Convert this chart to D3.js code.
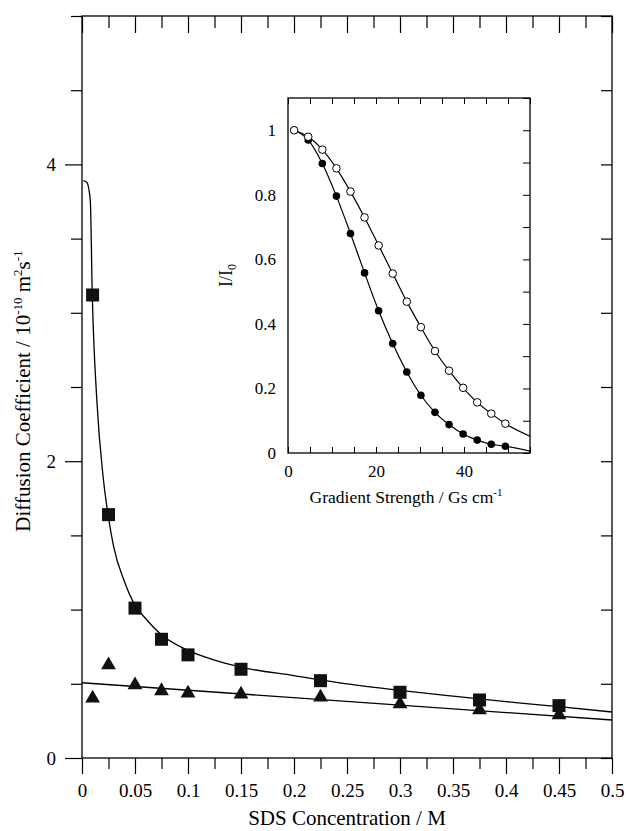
<!DOCTYPE html>
<html>
<head>
<meta charset="utf-8">
<script src="https://cdn.jsdelivr.net/npm/d3@7"></script>
<style>
  body { margin: 0; background: #fff; }
  svg { font-family: "Liberation Serif", "Times New Roman", serif; }
</style>
</head>
<body>
<figure id="chart" style="margin:0"></figure>
<script>
// main plot: SDS concentration (M) vs diffusion coefficient (1e-10 m2/s)
const sdsConc = [0.01, 0.025, 0.05, 0.075, 0.1, 0.15, 0.225, 0.3, 0.375, 0.45];
const squareD = [3.12, 1.64, 1.01, 0.80, 0.695, 0.598, 0.521, 0.443, 0.391, 0.353];
const triangleD = [0.403, 0.627, 0.492, 0.452, 0.436, 0.43, 0.409, 0.364, 0.324, 0.29];

// fitted curves
const squareFitX = [0.0012, 0.0045, 0.0078, 0.0097, 0.014, 0.02, 0.025, 0.03, 0.04, 0.05, 0.06, 0.075, 0.1, 0.125, 0.15, 0.2, 0.25, 0.3, 0.35, 0.4, 0.45, 0.5];
const squareFitD = [3.89, 3.88, 3.76, 3.12, 2.41, 1.89, 1.62, 1.42, 1.19, 1.03, 0.94, 0.83, 0.725, 0.66, 0.612, 0.555, 0.50, 0.456, 0.417, 0.38, 0.346, 0.31];
const triangleFitX = [0, 0.5];
const triangleFitD = [0.507, 0.256];

const mainXTicks = [0, 0.05, 0.1, 0.15, 0.2, 0.25, 0.3, 0.35, 0.4, 0.45, 0.5];
const mainYTicks = [0, 2, 4];

// inset: gradient strength vs I/I0
const gradient = [1.4, 4.6, 7.8, 11.0, 14.2, 17.4, 20.6, 23.8, 27.0, 30.2, 33.4, 36.6, 39.8, 43.0, 46.2, 49.4];
const openI = [1.0, 0.98, 0.94, 0.882, 0.81, 0.73, 0.643, 0.556, 0.469, 0.39, 0.316, 0.255, 0.202, 0.157, 0.122, 0.091];
const filledI = [1.0, 0.97, 0.897, 0.796, 0.68, 0.558, 0.441, 0.339, 0.251, 0.179, 0.126, 0.088, 0.059, 0.04, 0.027, 0.021];
const openFitEnd = [55, 0.052];
const filledFitEnd = [55, 0.006];

const insetXTicks = [0, 20, 40];
const insetYTicks = [0, 0.2, 0.4, 0.6, 0.8, 1];

const width = 626, height = 831;
const m = { left: 82, right: 612, top: 16, bottom: 758 };
const ins = { left: 288, right: 530, top: 98, bottom: 453 };

const svg = d3.select("#chart").append("svg")
  .attr("width", width)
  .attr("height", height);

const x = d3.scaleLinear().domain([0, 0.5]).range([m.left, m.right]);
const y = d3.scaleLinear().domain([0, 5]).range([m.bottom, m.top]);

const fmt = d => d === 0 ? "0" : String(+d.toFixed(3));
const isMajorX = d => Math.abs(d * 20 - Math.round(d * 20)) < 1e-6;
const serif = "Liberation Serif";

// frame
svg.append("rect")
  .attr("x", m.left).attr("y", m.top)
  .attr("width", m.right - m.left).attr("height", m.bottom - m.top)
  .attr("fill", "none").attr("stroke", "#000").attr("stroke-width", 1.3);

const minorX = d3.range(0, 0.5001, 0.025);
const minorY = d3.range(0, 5.001, 0.5);

// bottom axis: outward ticks
svg.append("g")
  .attr("transform", `translate(0,${m.bottom})`)
  .call(d3.axisBottom(x).tickValues(minorX).tickSize(11).tickFormat(""))
  .call(g => g.select(".domain").remove())
  .call(g => g.selectAll(".tick line")
    .attr("y2", d => isMajorX(d) ? 16 : 11).attr("stroke-width", 1.2));
svg.append("g")
  .attr("transform", `translate(0,${m.bottom})`)
  .call(d3.axisBottom(x).tickValues(mainXTicks).tickSize(0).tickPadding(26).tickFormat(fmt))
  .call(g => g.select(".domain").remove())
  .call(g => g.selectAll("text").attr("font-size", 19).attr("fill", "#000")
    .attr("font-family", serif));

// top axis: inward ticks
svg.append("g")
  .attr("transform", `translate(0,${m.top})`)
  .call(d3.axisBottom(x).tickValues(minorX).tickSize(12).tickFormat(""))
  .call(g => g.select(".domain").remove())
  .call(g => g.selectAll(".tick line")
    .attr("y2", d => isMajorX(d) ? 17 : 12).attr("stroke-width", 1.2));

// left axis: outward ticks, long at labelled values
svg.append("g")
  .attr("transform", `translate(${m.left},0)`)
  .call(d3.axisLeft(y).tickValues(minorY).tickSize(11).tickFormat(""))
  .call(g => g.select(".domain").remove())
  .call(g => g.selectAll(".tick line")
    .attr("x2", d => mainYTicks.includes(d) ? -17 : -11).attr("stroke-width", 1.2));
svg.append("g")
  .attr("transform", `translate(${m.left},0)`)
  .call(d3.axisLeft(y).tickValues(mainYTicks).tickSize(0).tickPadding(26).tickFormat(fmt))
  .call(g => g.select(".domain").remove())
  .call(g => g.selectAll("text").attr("font-size", 19).attr("fill", "#000")
    .attr("font-family", serif));

// right axis: inward ticks
svg.append("g")
  .attr("transform", `translate(${m.right},0)`)
  .call(d3.axisRight(y).tickValues(minorY).tickSize(-11).tickFormat(""))
  .call(g => g.select(".domain").remove())
  .call(g => g.selectAll("line").attr("stroke-width", 1.2));

// axis titles
svg.append("text")
  .attr("x", (m.left + m.right) / 2).attr("y", 825)
  .attr("text-anchor", "middle").attr("font-size", 21)
  .text("SDS Concentration / M");

const yTitle = svg.append("text")
  .attr("transform", `translate(30,${(m.top + m.bottom) / 2 + 4}) rotate(-90)`)
  .attr("text-anchor", "middle").attr("font-size", 21);
yTitle.append("tspan").text("Diffusion Coefficient / 10");
yTitle.append("tspan").attr("dy", -8).attr("font-size", 13).text("-10");
yTitle.append("tspan").attr("dy", 8).text(" m");
yTitle.append("tspan").attr("dy", -8).attr("font-size", 13).text("2");
yTitle.append("tspan").attr("dy", 8).text("s");
yTitle.append("tspan").attr("dy", -8).attr("font-size", 13).text("-1");

// fitted lines
const line = d3.line().x(d => x(d[0])).y(d => y(d[1])).curve(d3.curveMonotoneX);
svg.append("path")
  .datum(d3.zip(squareFitX, squareFitD))
  .attr("d", line).attr("fill", "none").attr("stroke", "#000").attr("stroke-width", 1.3);
svg.append("path")
  .datum(d3.zip(triangleFitX, triangleFitD))
  .attr("d", line).attr("fill", "none").attr("stroke", "#000").attr("stroke-width", 1.3);

// markers
const sq = 13;
svg.append("g").selectAll("rect")
  .data(d3.zip(sdsConc, squareD))
  .join("rect")
  .attr("x", d => x(d[0]) - sq / 2).attr("y", d => y(d[1]) - sq / 2)
  .attr("width", sq).attr("height", sq).attr("fill", "#111");

const tri = d3.symbol().type(d3.symbolTriangle).size(95);
svg.append("g").selectAll("path")
  .data(d3.zip(sdsConc, triangleD))
  .join("path")
  .attr("transform", d => `translate(${x(d[0])},${y(d[1])})`)
  .attr("d", tri).attr("fill", "#111");

// ---- inset ----
const ix = d3.scaleLinear().domain([0, 55]).range([ins.left, ins.right]);
const iy = d3.scaleLinear().domain([0, 1.1]).range([ins.bottom, ins.top]);

svg.append("rect")
  .attr("x", ins.left).attr("y", ins.top)
  .attr("width", ins.right - ins.left).attr("height", ins.bottom - ins.top)
  .attr("fill", "#fff").attr("stroke", "#000").attr("stroke-width", 1.3);

const iMinorX = d3.range(0, 55.01, 5);
const iMinorY = d3.range(0, 1.101, 0.1);

svg.append("g")
  .attr("transform", `translate(0,${ins.bottom})`)
  .call(d3.axisTop(ix).tickValues(iMinorX).tickSize(6).tickFormat(""))
  .call(g => g.select(".domain").remove());
svg.append("g")
  .attr("transform", `translate(0,${ins.top})`)
  .call(d3.axisBottom(ix).tickValues(iMinorX).tickSize(6).tickFormat(""))
  .call(g => g.select(".domain").remove());
svg.append("g")
  .attr("transform", `translate(${ins.right},0)`)
  .call(d3.axisLeft(iy).tickValues(iMinorY).tickSize(7).tickFormat(""))
  .call(g => g.select(".domain").remove());

svg.append("g")
  .attr("transform", `translate(0,${ins.bottom})`)
  .call(d3.axisBottom(ix).tickValues(insetXTicks).tickSize(0).tickPadding(12))
  .call(g => g.select(".domain").remove())
  .call(g => g.selectAll("text").attr("font-size", 17).attr("fill", "#000")
    .attr("font-family", serif));
svg.append("g")
  .attr("transform", `translate(${ins.left},0)`)
  .call(d3.axisLeft(iy).tickValues(insetYTicks).tickSize(0).tickPadding(12).tickFormat(fmt))
  .call(g => g.select(".domain").remove())
  .call(g => g.selectAll("text").attr("font-size", 17).attr("fill", "#000")
    .attr("font-family", serif));

const ixTitle = svg.append("text")
  .attr("x", 406).attr("y", 503)
  .attr("text-anchor", "middle").attr("font-size", 17.5);
ixTitle.append("tspan").text("Gradient Strength / Gs cm");
ixTitle.append("tspan").attr("dy", -7).attr("font-size", 11).text("-1");

const iyTitle = svg.append("text")
  .attr("transform", `translate(232,${(ins.top + ins.bottom) / 2}) rotate(-90)`)
  .attr("text-anchor", "middle").attr("font-size", 18);
iyTitle.append("tspan").text("I/I");
iyTitle.append("tspan").attr("dy", 4).attr("font-size", 12).text("0");

const iline = d3.line().x(d => ix(d[0])).y(d => iy(d[1])).curve(d3.curveMonotoneX);
svg.append("path")
  .datum(d3.zip(gradient, openI).concat([openFitEnd]))
  .attr("d", iline).attr("fill", "none").attr("stroke", "#000").attr("stroke-width", 1.2);
svg.append("path")
  .datum(d3.zip(gradient, filledI).concat([filledFitEnd]))
  .attr("d", iline).attr("fill", "none").attr("stroke", "#000").attr("stroke-width", 1.2);

svg.append("g").selectAll("circle")
  .data(d3.zip(gradient, filledI))
  .join("circle")
  .attr("cx", d => ix(d[0])).attr("cy", d => iy(d[1])).attr("r", 3.8)
  .attr("fill", "#000");
svg.append("g").selectAll("circle")
  .data(d3.zip(gradient, openI))
  .join("circle")
  .attr("cx", d => ix(d[0])).attr("cy", d => iy(d[1])).attr("r", 3.8)
  .attr("fill", "#fff").attr("stroke", "#000").attr("stroke-width", 1);
</script>
</body>
</html>
